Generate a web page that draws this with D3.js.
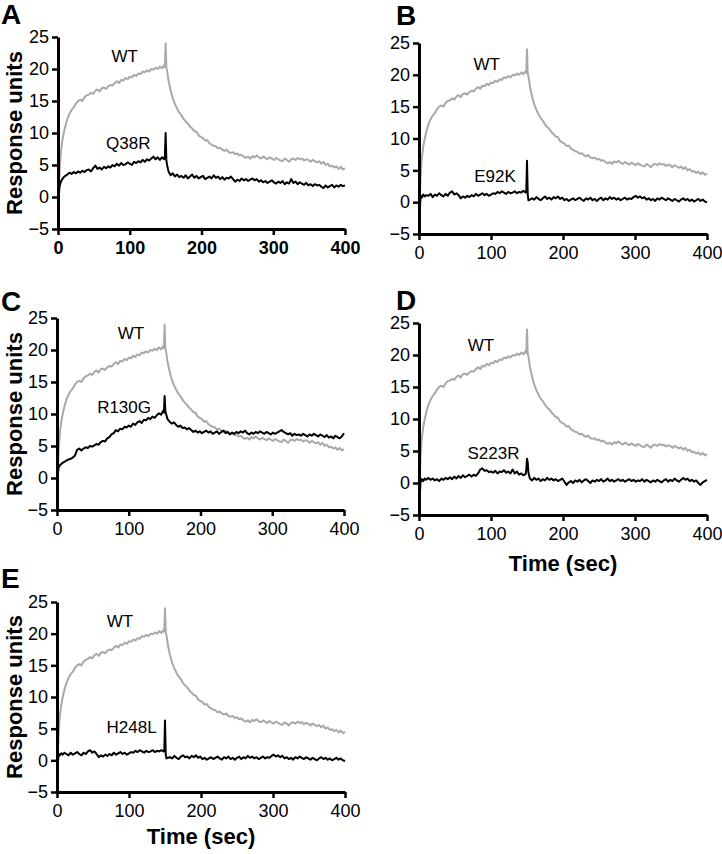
<!DOCTYPE html>
<html>
<head>
<meta charset="utf-8">
<script src="https://cdn.jsdelivr.net/npm/d3@7"></script>
<style>
  html, body { margin: 0; padding: 0; background: #fff; }
  svg { display: block; font-family: Arial, "Liberation Sans", Helvetica, sans-serif; }
</style>
</head>
<body>
<svg id="chart" width="722" height="854"></svg>
<script>
// ---------------- DATA ----------------
const time = [
  0, 1, 2, 3, 4, 6, 8, 10,
  13, 16, 19, 22, 25, 28, 31, 34, 37, 40,
  43, 46, 49, 52, 55, 58, 61, 64, 67, 70,
  73, 76, 79, 82, 85, 88, 91, 94, 97, 100,
  103, 106, 109, 112, 115, 118, 121, 124, 127, 130,
  133, 136, 139, 142, 145, 148,
  149, 150, 151, 152, 154,
  157, 160, 163, 166, 169, 172, 175, 178, 181, 184,
  187, 190, 193, 196, 199, 202, 205, 208, 211, 214,
  217, 220, 223, 226, 229, 232, 235, 238, 241, 244,
  247, 250, 253, 256, 259, 262, 265, 268, 271, 274,
  277, 280, 283, 286, 289, 292, 295, 298, 301, 304,
  307, 310, 313, 316, 319, 322, 325, 328, 331, 334,
  337, 340, 343, 346, 349, 352, 355, 358, 361, 364,
  367, 370, 373, 376, 379, 382, 385, 388, 391, 394,
  397, 400
];

const wtValues = [
  -3.5, 0.5, 3.5, 5.5, 7.0, 8.8, 10.0, 11.0,
  12.2, 13.0, 13.6, 14.0, 14.6, 15.0, 15.2, 15.0, 15.6, 15.9,
  16.0, 16.3, 16.1, 16.6, 16.8, 16.5, 17.0, 17.1, 16.9, 17.3,
  17.5, 17.4, 17.8, 18.1, 17.8, 18.3, 18.2, 18.6, 18.4, 18.8,
  18.7, 19.1, 18.9, 19.3, 19.2, 19.6, 19.5, 19.8, 19.6, 20.0,
  19.9, 20.2, 20.0, 20.4, 20.1, 20.6,
  20.3, 24.0, 20.2, 19.8, 18.2,
  16.6, 15.4, 14.5, 13.8, 13.2, 12.8, 12.2, 11.8, 11.5, 11.0,
  10.7, 10.3, 10.2, 9.6, 9.4, 9.2, 8.8, 8.9, 8.4, 8.2,
  8.0, 7.9, 7.6, 7.7, 7.4, 7.2, 7.4, 7.0, 6.9, 7.0,
  6.7, 6.8, 6.5, 6.6, 6.3, 6.1, 6.3, 6.0, 6.4, 6.2,
  6.5, 6.2, 6.0, 6.3, 6.1, 5.9, 6.2, 6.0, 5.8, 6.1,
  5.9, 5.7, 5.6, 6.0, 5.8, 5.5, 5.9, 6.0, 5.8, 6.1,
  5.9, 6.0, 5.7, 5.9, 5.8, 5.5, 5.8, 5.6, 5.4, 5.6,
  5.2, 5.5, 5.0, 5.2, 4.8, 4.9, 4.6, 4.8, 4.4, 4.7,
  4.3, 4.5
];

const q38rValues = [
  -5.0, 0.0, 1.5, 2.0, 2.4, 2.8, 3.1, 3.3,
  3.5, 3.8, 3.6, 3.9, 3.7, 4.0, 3.8, 4.1, 3.9, 4.2,
  4.3, 4.0, 4.5, 4.9, 4.4, 4.6, 4.3, 4.7, 4.5, 4.8,
  4.6, 5.0, 4.8, 5.2, 4.9, 5.3, 5.0, 5.1, 5.4, 5.2,
  5.0, 5.5, 5.3, 5.6, 5.4, 5.8, 5.5, 5.9, 5.7, 6.0,
  6.3, 5.9, 6.2, 5.8, 6.2, 5.9,
  6.5, 10.0, 5.8, 5.0, 4.0,
  3.4, 3.7, 3.2, 3.5, 3.1, 3.3, 3.0, 3.4, 2.9, 3.2,
  3.5, 3.0, 3.3, 2.9, 3.1, 3.3, 2.8, 3.0, 3.2, 2.9,
  3.4, 3.0, 3.2, 2.8, 3.1, 2.7, 3.0, 2.9, 3.2, 2.8,
  2.4, 2.7, 2.5, 2.9, 2.6, 2.8, 2.5, 2.7, 2.9, 2.6,
  2.8, 2.4, 2.6, 2.3, 2.5, 2.2, 2.4, 2.6, 2.3, 2.1,
  2.4, 2.2, 2.5, 2.0, 2.3, 2.1, 2.8, 2.2, 2.4, 2.0,
  2.3, 2.1, 1.9, 2.2, 1.8, 2.0, 1.7, 2.0, 1.8, 1.9,
  1.6, 1.4, 1.8, 1.5, 1.7, 1.9, 1.5, 1.8, 1.6, 1.9,
  1.7, 1.8
];

const e92kValues = [
  -5.0, -2.0, 0.8, 1.0, 0.7, 1.2, 0.9, 1.1,
  1.0, 1.3, 0.8, 1.2, 1.0, 1.4, 1.1, 0.9, 1.3, 1.0,
  1.5, 1.7, 1.2, 1.4, 1.1, 0.6, 0.9, 0.7, 1.0, 0.8,
  1.1, 0.9, 1.3, 1.0, 1.2, 1.4, 1.1, 1.3, 1.0, 1.2,
  1.4, 1.3, 1.6, 1.4, 1.7, 1.5, 1.3, 1.6, 1.4, 1.5,
  1.7, 1.4, 1.6, 1.5, 1.8, 1.5,
  1.6, 6.5, 1.2, 0.3, 0.4,
  0.6, 0.4, 0.8, 0.5, 0.3, 0.6, 0.9, 0.5, 0.7, 0.4,
  0.8, 0.6, 0.9, 0.5, 0.7, 0.3, 0.5, 0.2, 0.4, 0.6,
  0.3, 0.5, 0.7, 0.4, 0.2, 0.6, 0.4, 0.7, 0.3, 0.5,
  0.2, 0.5, 0.7, 0.3, 0.6, 0.4, 0.8, 0.5, 0.7, 0.4,
  0.6, 0.3, 0.5, 0.7, 0.4, 0.6, 0.5, 0.8, 1.0, 0.7,
  0.9, 0.6, 0.8, 0.4, 0.6, 0.3, 0.5, 0.2, 0.6, 0.4,
  0.7, 0.5, 0.3, 0.6, 0.4, 0.2, 0.5, 0.3, 0.1, 0.4,
  0.6, 0.3, 0.5, 0.2, 0.4, 0.1, 0.3, 0.5, 0.2, 0.4,
  0.1, 0.0
];

const r130gValues = [
  -4.5, 0.0, 1.5, 1.8, 2.0, 2.2, 2.4, 2.5,
  2.7, 2.9, 3.0, 3.2, 3.5, 4.4, 4.6, 4.3, 4.6, 4.8,
  4.7, 5.0, 4.9, 5.1, 5.3, 5.2, 5.6, 5.8, 5.7, 6.2,
  6.4, 6.8, 7.0, 7.5, 7.3, 7.7, 7.6, 8.0, 7.9, 8.2,
  8.0, 8.5, 8.3, 8.7, 8.9, 8.6, 9.1, 9.0, 9.4, 9.2,
  9.6, 9.4, 9.8, 10.1, 9.9, 10.5,
  10.2, 12.8, 10.5, 10.0, 9.2,
  8.8, 8.5, 8.7, 8.3, 8.0, 8.2, 7.8, 7.9, 7.6, 7.8,
  7.5, 7.2, 7.4, 7.1, 7.3, 7.0, 7.2, 7.4, 7.1, 7.3,
  6.9, 7.1, 7.3, 6.9, 7.2, 7.4, 7.0, 7.2, 6.8, 7.1,
  6.9, 7.2, 7.0, 7.3, 7.1, 7.4, 7.0, 6.8, 7.1, 6.9,
  7.2, 7.0, 7.3, 7.1, 6.9, 7.2, 7.0, 6.8, 7.1, 6.9,
  7.1, 7.3, 7.5, 7.2, 7.0, 6.8, 7.0, 6.6, 6.9, 6.7,
  6.8, 6.6, 6.9, 6.7, 6.5, 6.8, 6.6, 6.9, 6.7, 6.5,
  6.8, 6.6, 6.4, 6.7, 6.3, 6.5, 6.2, 6.6, 6.4, 6.2,
  6.5, 7.0
];

const s223rValues = [
  -4.5, -2.5, 0.0, 0.4, 0.6, 0.3, 0.7, 0.5,
  0.8, 0.5, 0.7, 0.4, 0.6, 0.3, 0.7, 0.5, 0.8, 0.6,
  0.9, 0.6, 1.0, 0.7, 1.1, 0.8, 1.2, 0.9, 1.1, 1.3,
  1.0, 1.3, 1.1, 1.5, 2.1, 2.3, 1.9, 2.0, 1.7, 1.8,
  1.6, 1.9, 1.5, 1.8, 1.7, 2.0, 1.6, 1.8, 1.5, 2.1,
  1.5, 1.8, 1.3, 1.5, 1.2, 1.4,
  2.0, 3.8, 3.2, 1.6, 0.7,
  0.4, 0.8, 0.5, 0.7, 0.3, 0.6, 0.4, 0.8, 0.5, 0.7,
  0.4, 0.6, 0.3, 0.5, 0.7, 0.2, -0.3, 0.1, 0.3, 0.0,
  0.4, 0.2, 0.5, 0.1, 0.4, 0.6, 0.3, 0.0, 0.4, 0.2,
  0.5, 0.3, 0.6, 0.2, 0.4, 0.7, 0.3, 0.5, 0.2, 0.4,
  0.6, 0.3, 0.5, 0.2, 0.4, 0.6, 0.3, 0.5, 0.2, 0.4,
  0.3, 0.6, 0.2, 0.5, 0.3, 0.1, 0.4, 0.2, 0.5, 0.3,
  0.1, 0.4, 0.6, 0.2, 0.5, 0.3, 0.7, 0.4, 0.2, 0.5,
  0.8, 0.5, 0.7, 0.3, 0.5, 0.2, 0.4, 0.0, -0.3, 0.1,
  0.3, 0.5
];

const h248lValues = [
  -3.0, -0.5, 0.5, 1.0, 0.8, 1.1, 0.9, 1.2,
  1.0, 0.8, 1.2, 0.9, 1.1, 1.3, 1.0, 0.8, 1.2, 1.0,
  1.4, 1.6, 1.2, 1.4, 1.0, 0.5, 0.8, 0.6, 0.9, 0.7,
  1.0, 0.8, 1.2, 0.9, 1.1, 1.3, 1.0, 1.2, 0.9, 1.1,
  1.3, 1.2, 1.5, 1.3, 1.6, 1.4, 1.2, 1.5, 1.3, 1.4,
  1.6, 1.3, 1.5, 1.4, 1.6, 1.4,
  1.5, 6.3, 1.0, 0.3, 0.4,
  0.5, 0.3, 0.7, 0.4, 0.2, 0.6, 0.8, 0.5, 0.6, 0.3,
  0.7, 0.5, 0.8, 0.4, 0.6, 0.2, 0.4, 0.1, 0.3, 0.5,
  0.2, 0.4, 0.6, 0.3, 0.1, 0.5, 0.3, 0.6, 0.2, 0.4,
  0.1, 0.4, 0.6, 0.2, 0.5, 0.3, 0.7, 0.4, 0.6, 0.3,
  0.5, 0.2, 0.4, 0.6, 0.3, 0.5, 0.4, 0.7, 0.9, 0.6,
  0.8, 0.5, 0.7, 0.3, 0.5, 0.2, 0.4, 0.1, 0.5, 0.3,
  0.6, 0.4, 0.2, 0.5, 0.3, 0.1, 0.4, 0.2, 0.0, 0.3,
  0.5, 0.2, 0.4, 0.1, 0.3, 0.0, 0.2, 0.4, 0.1, 0.3,
  0.0, -0.1
];

const panelLetters = ["A", "B", "C", "D", "E"];
const mutantNames = ["Q38R", "E92K", "R130G", "S223R", "H248L"];
const mutantValues = [q38rValues, e92kValues, r130gValues, s223rValues, h248lValues];
const wtName = "WT";
const xTicks = [0, 100, 200, 300, 400];
const yTicks = [-5, 0, 5, 10, 15, 20, 25];
const xDomain = [0, 400];
const yDomain = [-5, 25];
const yTitle = "Response units";
const xTitle = "Time (sec)";

// ---------------- LAYOUT ----------------
const panels = [
  { x0: 58,  x1: 345, y0: 37,  y1: 229, lx: 1,   ly: 24,  yLabel: true,  xLabel: false, boldX: true,
    wtPos: [93, 21.1], mutPos: [98, 7.5] },
  { x0: 419, x1: 707, y0: 43,  y1: 234, lx: 396, ly: 25,  yLabel: false, xLabel: false, boldX: false,
    wtPos: [94, 20.8], mutPos: [105.5, 3.2] },
  { x0: 57,  x1: 344, y0: 318, y1: 510, lx: 1,   ly: 311, yLabel: true,  xLabel: false, boldX: false,
    wtPos: [103, 21.7], mutPos: [93.5, 10.2] },
  { x0: 419, x1: 707, y0: 323, y1: 515, lx: 396, ly: 310, yLabel: false, xLabel: true,  boldX: false, xTitleY: 571,
    wtPos: [86, 20.7], mutPos: [103.5, 3.8] },
  { x0: 57,  x1: 345, y0: 602, y1: 792, lx: 1,   ly: 588, yLabel: true,  xLabel: true,  boldX: false, xTitleY: 844,
    wtPos: [87.5, 21.1], mutPos: [103.7, 4.3] }
];

const svg = d3.select("#chart");

panels.forEach((p, i) => {
  const x = d3.scaleLinear().domain(xDomain).range([p.x0, p.x1]);
  const y = d3.scaleLinear().domain(yDomain).range([p.y1, p.y0]);
  const g = svg.append("g");

  // panel letter
  g.append("text")
    .attr("x", p.lx).attr("y", p.ly)
    .attr("font-size", 28).attr("font-weight", "bold")
    .attr("fill", "#000")
    .text(panelLetters[i]);

  const line = d3.line()
    .x((d, k) => x(time[k]))
    .y(d => y(d));

  // WT trace
  g.append("path")
    .datum(wtValues)
    .attr("d", line)
    .attr("fill", "none")
    .attr("stroke", "#a9a9a9")
    .attr("stroke-width", 2)
    .attr("stroke-linejoin", "round");

  // mutant trace
  g.append("path")
    .datum(mutantValues[i])
    .attr("d", line)
    .attr("fill", "none")
    .attr("stroke", "#000")
    .attr("stroke-width", 2)
    .attr("stroke-linejoin", "round");

  // axes
  const xAxis = d3.axisBottom(x).tickValues(xTicks).tickFormat(d3.format("d"))
    .tickSize(6).tickSizeOuter(0).tickPadding(6);
  const yAxis = d3.axisLeft(y).tickValues(yTicks).tickFormat(d3.format("d"))
    .tickSize(6).tickSizeOuter(0).tickPadding(3);

  const gx = g.append("g").attr("transform", `translate(0,${p.y1})`).call(xAxis);
  const gy = g.append("g").attr("transform", `translate(${p.x0},0)`).call(yAxis);

  [gx, gy].forEach(ax => {
    ax.select(".domain").attr("stroke", "#000").attr("stroke-width", 3);
    ax.selectAll(".tick line").attr("stroke", "#000").attr("stroke-width", 2.5);
    ax.selectAll(".tick text")
      .attr("fill", "#000")
      .attr("font-size", 18)
      .attr("font-family", 'Arial, "Liberation Sans", Helvetica, sans-serif');
  });
  if (p.boldX) gx.selectAll(".tick text").attr("font-weight", "bold");

  // series labels
  g.append("text")
    .attr("x", x(p.wtPos[0])).attr("y", y(p.wtPos[1]))
    .attr("text-anchor", "middle").attr("font-size", 17).attr("fill", "#000")
    .text(wtName);
  g.append("text")
    .attr("x", x(p.mutPos[0])).attr("y", y(p.mutPos[1]))
    .attr("text-anchor", "middle").attr("font-size", 17).attr("fill", "#000")
    .text(mutantNames[i]);

  if (p.yLabel) {
    const cy = (p.y0 + p.y1) / 2;
    g.append("text")
      .attr("transform", `translate(21.5,${cy}) rotate(-90)`)
      .attr("text-anchor", "middle")
      .attr("font-size", 22).attr("font-weight", "bold").attr("fill", "#000")
      .text(yTitle);
  }
  if (p.xLabel) {
    g.append("text")
      .attr("x", (p.x0 + p.x1) / 2).attr("y", p.xTitleY)
      .attr("text-anchor", "middle")
      .attr("font-size", 22).attr("font-weight", "bold").attr("fill", "#000")
      .text(xTitle);
  }
});
</script>
</body>
</html>
